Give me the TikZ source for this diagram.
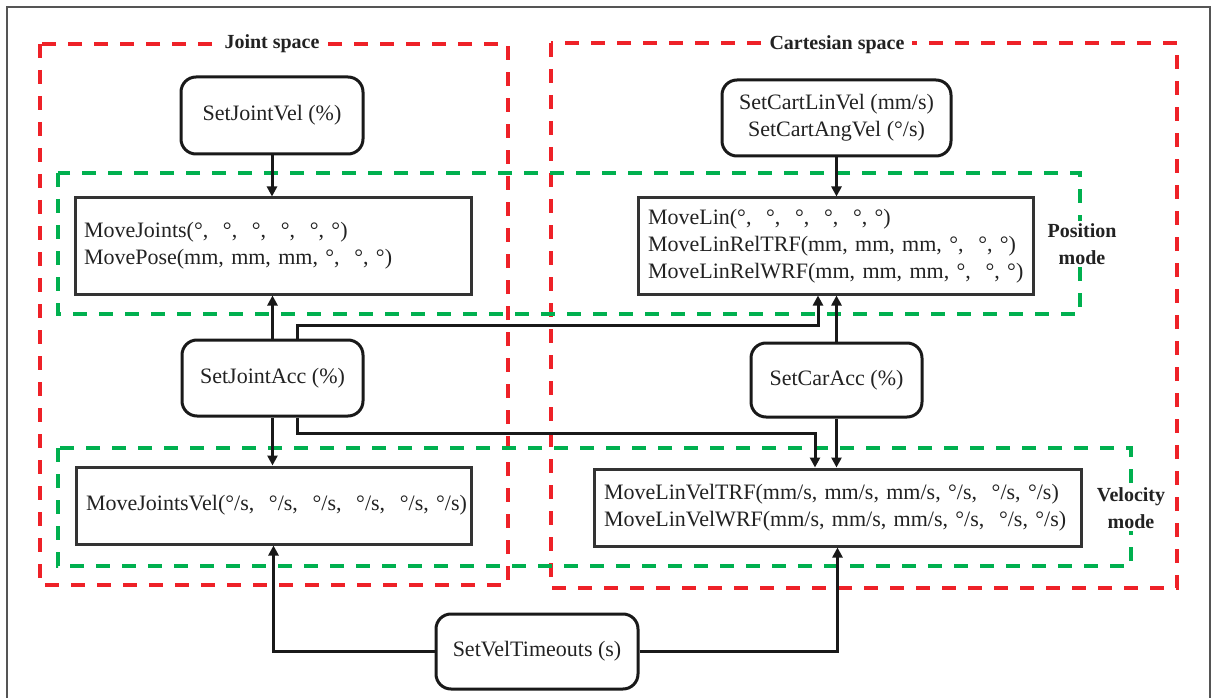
\documentclass[tikz,border=0pt]{standalone}
\usepackage{fontspec}
\setmainfont{Liberation Serif}
\usetikzlibrary{arrows.meta}
\definecolor{dred}{HTML}{EE2128}
\definecolor{dgreen}{HTML}{00B04F}
\definecolor{txt}{HTML}{222222}
\definecolor{boxc}{HTML}{333333}
\definecolor{framec}{HTML}{555555}
\begin{document}
\begin{tikzpicture}[x=1pt,y=-1pt,
  every node/.style={font=\fontsize{22}{27}\selectfont, text=txt},
  rbox/.style={draw=black!90, line width=3pt, rounded corners=15pt, fill=white, align=center, inner sep=0pt},
  sbox/.style={draw=boxc, line width=3pt, fill=white, align=left, inner sep=0pt},
  conn/.style={draw=black!90, line width=3pt, -{Triangle[length=10pt,width=10pt]}},
  reddash/.style={draw=dred, line width=3.2pt, dash pattern=on 14pt off 12pt},
  greendash/.style={draw=dgreen, line width=3.2pt, dash pattern=on 14pt off 12pt},
  lab/.style={fill=white, inner xsep=8pt, inner ysep=2pt, align=center, font=\bfseries\fontsize{20}{27}\selectfont}]
\useasboundingbox (0,0) rectangle (1211,698);
% outer frame
\draw[framec, line width=1.2pt] (7,698) -- (7,7) -- (1210,7) -- (1210,698);
% dashed groups
\draw[reddash] (40,44) rectangle (508,585);
\draw[reddash] (551,43) rectangle (1177,588);
\draw[greendash] (58,173) rectangle (1080,314);
\draw[greendash] (58,448) rectangle (1131,566);
\node[lab] (js) at (272,44) {Joint space};
\node[lab] (cs) at (837,45) {Cartesian space};
\node[lab] (pm) at (1082,244) {Position\\mode};
\node[lab] (vm) at (1131,508) {Velocity\\mode};
% nodes
\node[rbox, minimum width=182, minimum height=77] (sjv) at (272,115.5) {SetJointVel (\%)};
\node[rbox, minimum width=229, minimum height=76] (scv) at (836.5,118) {SetCartLinVel (mm/s)\\SetCartAngVel (°/s)};
\node[sbox, minimum width=396, minimum height=96, text width=378] (mj) at (273,246)
  {\mbox{MoveJoints(°,\ \ °,\ \ °,\ \ °,\ \ °, °)}\\\mbox{MovePose(mm, mm, mm, °,\ \ °, °)}};
\node[sbox, minimum width=395, minimum height=96, text width=375] (ml) at (835.5,246)
  {\mbox{MoveLin(°,\ \ °,\ \ °,\ \ °,\ \ °, °)}\\\mbox{MoveLinRelTRF(mm, mm, mm, °,\ \ °, °)}\\\mbox{MoveLinRelWRF(mm, mm, mm, °,\ \ °, °)}};
\node[rbox, minimum width=181, minimum height=76] (sja) at (272.5,378) {SetJointAcc (\%)};
\node[rbox, minimum width=171, minimum height=74] (sca) at (836.5,380) {SetCarAcc (\%)};
\node[sbox, minimum width=395, minimum height=77, text width=375] (mjv) at (273.5,505.5)
  {\mbox{MoveJointsVel(°/s,\ \ °/s,\ \ °/s,\ \ °/s,\ \ °/s, °/s)}};
\node[sbox, minimum width=487, minimum height=77, text width=467] (mlv) at (837.5,507.5)
  {\mbox{MoveLinVelTRF(mm/s, mm/s, mm/s, °/s,\ \ °/s, °/s)}\\\mbox{MoveLinVelWRF(mm/s, mm/s, mm/s, °/s,\ \ °/s, °/s)}};
\node[rbox, minimum width=202, minimum height=75] (svt) at (537,651.5) {SetVelTimeouts (s)};
% connectors
\coordinate (ja) at (297,0);
\coordinate (up) at (818,325);
\coordinate (dn) at (815,433);
\draw[conn] (sjv.south) -- (sjv.south |- mj.north);
\draw[conn] (scv.south) -- (scv.south |- ml.north);
\draw[conn] (sja.north) -- (sja.north |- mj.south);
\draw[conn] (sja.south) -- (sja.south |- mjv.north);
\draw[conn] (sca.north) -- (sca.north |- ml.south);
\draw[conn] (sca.south) -- (sca.south |- mlv.north);
\draw[conn] (sja.north -| ja) |- (up) -- (up |- ml.south);
\draw[conn] (sja.south -| ja) |- (dn) -- (dn |- mlv.north);
\draw[conn] (svt.west) -| (mjv.south);
\draw[conn] (svt.east) -| (mlv.south);
\end{tikzpicture}
\end{document}
